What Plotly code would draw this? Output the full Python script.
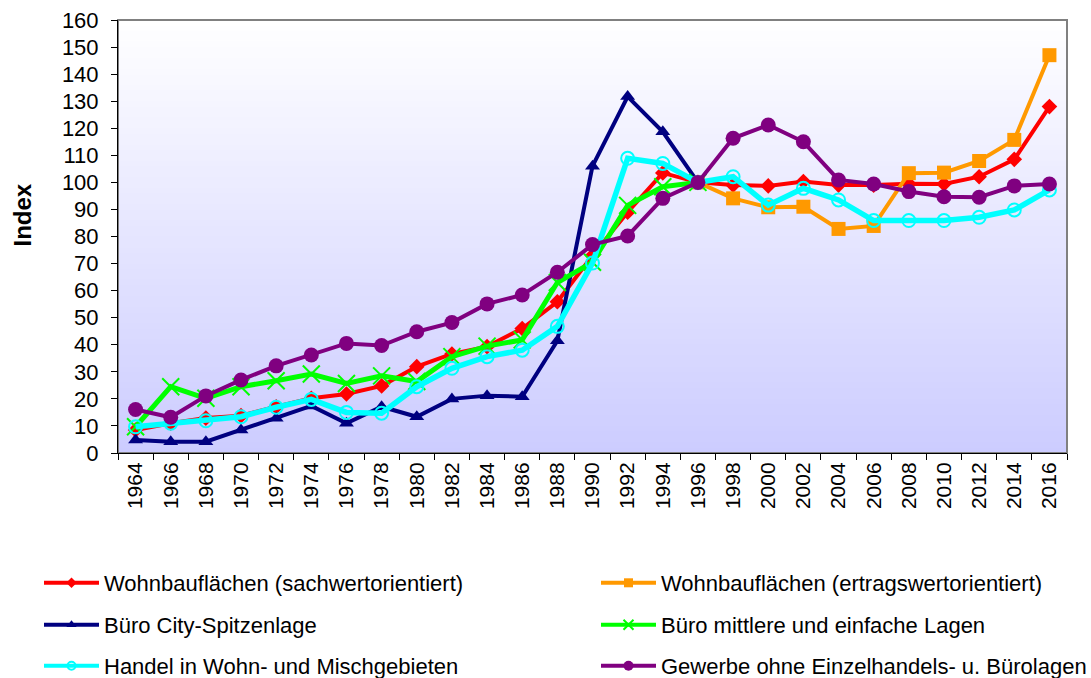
import plotly.graph_objects as go

# ---------- data ----------
years = ["1964", "1966", "1968", "1970", "1972", "1974", "1976", "1978", "1980",
         "1982", "1984", "1986", "1988", "1990", "1992", "1994", "1996", "1998",
         "2000", "2002", "2004", "2006", "2008", "2010", "2012", "2014", "2016"]

wohn_sach = [8.5, 11, 12.9, 13.8, 17.1, 20.2, 21.8, 24.8, 31.9, 36.6, 39.3, 46, 55.9,
             73, 89, 103.5, 100, 99, 98.7, 100.3, 99, 99, 99.5, 99.4, 102.1, 108.5, 128]
wohn_ertrag = [None] * 16 + [100, 94.1, 90.8, 91, 82.8, 83.9, 103.4, 103.6, 107.9, 115.7, 147]
buero_city = [4.8, 4.2, 4.2, 8.5, 12.8, 17.4, 11, 17.1, 13.4, 20, 21.2, 20.8, 41.5,
              106, 131.7, 118.7, 100] + [None] * 10
buero_mittel = [9.7, 24.5, 20.2, 24.5, 26.7, 29.2, 25.7, 28.5, 26.4, 35.6, 39.5, 41.8, 63,
                70.5, 91.5, 98.4, 100] + [None] * 10
handel = [9.7, 11, 11.9, 13.4, 16.9, 19.8, 15, 14.7, 24.5, 31.3, 35.6, 38, 46.8,
          70.2, 108.9, 107, 100, 102.1, 91.6, 97.8, 93.5, 85.9, 85.9, 85.9, 87.1, 89.8, 97.2]
gewerbe = [16.1, 13.2, 21.1, 27, 32.2, 36.2, 40.5, 39.7, 44.8, 48.2, 55.1, 58.4, 66.8,
           77, 80.2, 94.1, 100, 116.3, 121.2, 115, 100.9, 99.4, 96.6, 94.7, 94.5, 98.7, 99.4]

y_ticks = [0, 10, 20, 30, 40, 50, 60, 70, 80, 90, 100, 110, 120, 130, 140, 150, 160]

FONT = "Arial, Liberation Sans, sans-serif"

series = [
    # name, values, color, line width, marker symbol, marker size, legend marker size
    ("Wohnbauflächen (sachwertorientiert)", wohn_sach, "#FF0000", 4, "diamond", 12, 8),
    ("Wohnbauflächen (ertragswertorientiert)", wohn_ertrag, "#FF9900", 4, "square", 14, 9),
    ("Büro City-Spitzenlage", buero_city, "#000080", 4, "triangle-up", 13, 9),
    ("Büro mittlere und einfache Lagen", buero_mittel, "#00FF00", 5, "x-thin-open", 17, 10),
    ("Handel in Wohn- und Mischgebieten", handel, "#00FFFF", 5.5, "circle-open", 13, 8),
    ("Gewerbe ohne Einzelhandels- u. Bürolagen", gewerbe, "#800080", 4, "circle", 15, 10),
]

# legend slots: (legend id, left px, row centre px)
legend_slots = [
    ("legend", 39, 583), ("legend2", 596, 583),
    ("legend3", 39, 625), ("legend4", 596, 625),
    ("legend5", 39, 666), ("legend6", 596, 666),
]

fig = go.Figure()

for name, vals, color, lw, sym, size, _ in series:
    marker = dict(symbol=sym, size=size, color=color)
    if sym in ("x-thin-open", "circle-open"):
        marker["line"] = dict(color=color, width=2)
    fig.add_trace(
        go.Scatter(
            x=years, y=vals, name=name, mode="lines+markers",
            line=dict(color=color, width=lw),
            marker=marker, showlegend=False,
        )
    )

# legend-only entries (smaller markers, like the reference key)
for (name, _, color, lw, sym, _, lsize), (leg, _, _) in zip(series, legend_slots):
    marker = dict(symbol=sym, size=lsize, color=color)
    if sym in ("x-thin-open", "circle-open"):
        marker["line"] = dict(color=color, width=2)
    fig.add_trace(
        go.Scatter(
            x=[None], y=[None], name=name, mode="lines+markers",
            line=dict(color=color, width=4), marker=marker,
            legend=leg, showlegend=True,
        )
    )

# ---------- plot background: white -> lavender gradient ----------
n_bands = 80
for i in range(n_bands):
    t = (i + 0.5) / n_bands          # 0 at bottom, 1 at top
    r = int(round(204 + (255 - 204) * t))
    fig.add_shape(
        type="rect", xref="x domain", yref="y domain",
        x0=0, x1=1, y0=i / n_bands, y1=(i + 1) / n_bands + 0.002,
        fillcolor=f"rgb({r},{r},255)", line_width=0, layer="below",
    )
fig.add_shape(
    type="rect", xref="x domain", yref="y domain",
    x0=0, x1=1, y0=0, y1=1,
    line=dict(color="#808080", width=2), layer="below",
)

fig.add_annotation(
    text="<b>Index</b>", xref="paper", yref="paper",
    x=-0.1005, y=0.55, xanchor="center", yanchor="middle",
    textangle=-90, showarrow=False,
    font=dict(family=FONT, size=24, color="#000000"),
)

legends = {}
for leg, xpx, ypx in legend_slots:
    legends[leg] = dict(
        orientation="h", xref="container", yref="container",
        x=xpx / 1091, y=1 - ypx / 678, xanchor="left", yanchor="middle",
        itemwidth=55,
        font=dict(family=FONT, size=22, color="#000000"),
        bgcolor="rgba(0,0,0,0)",
    )

fig.update_layout(
    width=1091, height=678,
    margin=dict(l=117.5, r=23.5, t=20, b=225, autoexpand=False),
    paper_bgcolor="#FFFFFF",
    plot_bgcolor="rgba(0,0,0,0)",
    font=dict(family=FONT, color="#000000"),
    showlegend=True,
    **legends,
)

fig.update_xaxes(
    type="category", range=[-0.5, 26.5], tickangle=-90, tickson="boundaries",
    ticks="outside", ticklen=6, tickcolor="#000000",
    showline=True, linecolor="#000000", linewidth=1,
    showgrid=False, tickfont=dict(family=FONT, size=21),
    ticklabelstandoff=0, automargin=False,
)
fig.update_yaxes(
    range=[0, 160], tickvals=y_ticks,
    ticks="outside", ticklen=6, tickcolor="#000000",
    showline=True, linecolor="#000000", linewidth=1,
    showgrid=False, zeroline=False, tickfont=dict(family=FONT, size=22),
    ticklabelstandoff=8, automargin=False,
)

# drop the browser's default 8px page margin so the figure sits at (0, 0)
fig.write_html(
    "out.html",
    config={"displayModeBar": False},
    post_script="document.body.style.margin='0';",
)
